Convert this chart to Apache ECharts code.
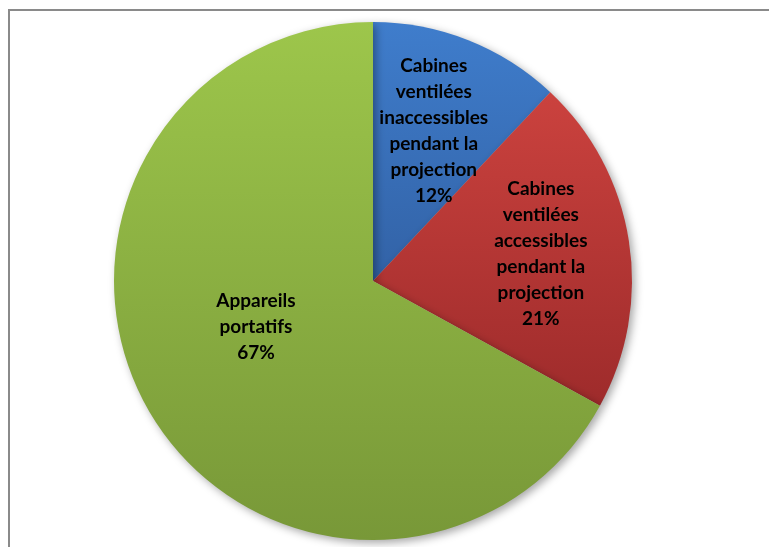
<!DOCTYPE html>
<html>
<head>
<meta charset="utf-8">
<script src="https://cdn.jsdelivr.net/npm/echarts@6/dist/echarts.min.js"></script>
<style>
html,body{margin:0;padding:0;background:#fff;}
#frame{position:absolute;left:8px;top:9px;width:800px;height:600px;border-left:2px solid #8a8a8a;border-top:2px solid #8a8a8a;box-sizing:border-box;}
#chart{position:absolute;left:0;top:0;width:769px;height:547px;}
</style>
</head>
<body>
<div id="frame"></div>
<div id="chart"></div>
<script>
const categories = [
  "Cabines\nventilées\ninaccessibles\npendant la\nprojection",
  "Cabines\nventilées\naccessibles\npendant la\nprojection",
  "Appareils\nportatifs"
];
const values = [12, 21, 67];
const topColors = ["#3F7DCC", "#CB423E", "#9DC64B"];
const bottomColors = ["#3262A6", "#9E2B2B", "#789838"];
const labelShift = [[12, -27], [37, -6], [-3, -22]];

const chart = echarts.init(document.getElementById('chart'), null, {renderer: 'canvas'});
chart.setOption({
  animation: false,
  series: [{
    type: 'pie',
    center: [373, 281],
    radius: [0, 259],
    startAngle: 90,
    clockwise: true,
    avoidLabelOverlap: false,
    label: {
      show: true,
      position: 'inside',
      formatter: p => p.name + '\n' + p.value + '%',
      fontFamily: 'Lato, "Open Sans", sans-serif',
      fontWeight: 'bold',
      fontSize: 19,
      lineHeight: 26,
      color: '#000',
      align: 'center'
    },
    labelLayout: function (params) {
      const s = labelShift[params.dataIndex];
      return {dx: s[0], dy: s[1]};
    },
    itemStyle: {
      borderWidth: 0,
      shadowBlur: 8,
      shadowOffsetX: 3,
      shadowOffsetY: 3,
      shadowColor: 'rgba(0,0,0,0.35)'
    },
    emphasis: {disabled: true},
    data: categories.map((c, i) => ({
      name: c,
      value: values[i],
      itemStyle: {
        color: new echarts.graphic.LinearGradient(0, 0, 0, 1, [
          {offset: 0, color: topColors[i]},
          {offset: 1, color: bottomColors[i]}
        ])
      }
    }))
  }]
});
</script>
</body>
</html>
